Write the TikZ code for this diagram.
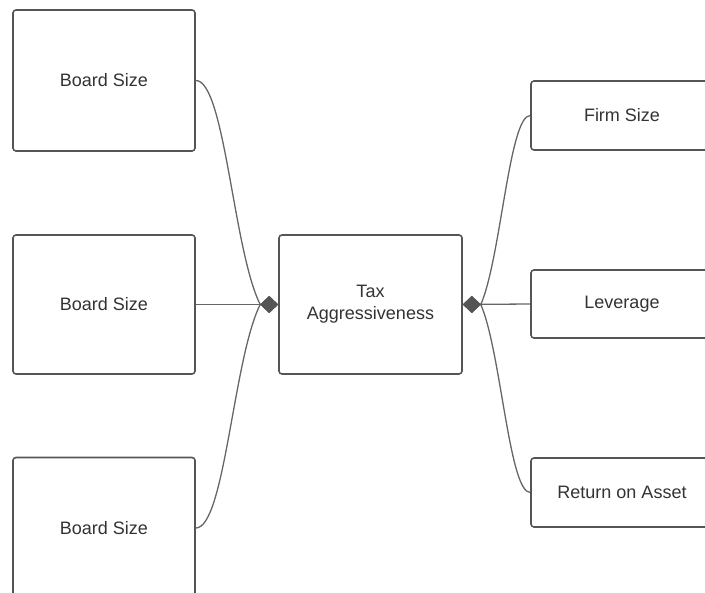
\documentclass[tikz,border=0pt]{standalone}
\usepackage{fontspec}
\setmainfont{Liberation Sans}
\usetikzlibrary{arrows.meta}
\definecolor{rand}{HTML}{555555}
\definecolor{linie}{HTML}{666666}
\definecolor{schrift}{HTML}{333333}
\begin{document}
\begin{tikzpicture}[x=1pt,y=-1pt,
	kasten/.style={draw=rand,line width=1.6pt,rounded corners=3pt,
		minimum width=182pt,inner sep=0pt,text=schrift,align=center,
		font=\fontsize{18}{22}\selectfont},
	pfeil/.style={draw=linie,line width=1.3pt,
		-{Kite[length=18pt,width=17pt,inset=9pt,fill=rand,color=rand]}}]
\useasboundingbox (0,0) rectangle (705,593);
%Einflussgroessen links
	\node (board1) at (104,80.5) [kasten,minimum height=141pt] {Board Size};
	\node (board2) at (104,304.5) [kasten,minimum height=139pt] {Board Size};
	\node (board3) at (104,528) [kasten,minimum height=141pt] {Board Size};
%Zielgroesse
	\node (tax) at (370.5,304.5) [kasten,minimum width=183pt,minimum height=139pt]
		{Tax\\Aggressiveness};
%Kontrollvariablen rechts
	\node (firm) at (622,115.5) [kasten,minimum height=69pt] {Firm Size};
	\node (lev) at (622,304) [kasten,minimum height=68pt] {Leverage};
	\node (roa) at (622,492.5) [kasten,minimum height=69pt] {Return on Asset};
%Verbindungen links
	\draw[pfeil] (board1.east) .. controls +(29,0) and +(-27,-54) ..
		([xshift=-18pt]tax.west) -- (tax.west);
	\draw[pfeil] (board2.east) -- (tax.west);
	\draw[pfeil] (board3.east) .. controls +(29,0) and +(-27,54) ..
		([xshift=-18pt]tax.west) -- (tax.west);
%Verbindungen rechts
	\draw[pfeil] (firm.west) .. controls +(-21,0) and +(20,-46) ..
		([xshift=18pt]tax.east) -- (tax.east);
	\draw[pfeil] (lev.west) -- (tax.east);
	\draw[pfeil] (roa.west) .. controls +(-21,0) and +(20,46) ..
		([xshift=18pt]tax.east) -- (tax.east);
\end{tikzpicture}
\end{document}
